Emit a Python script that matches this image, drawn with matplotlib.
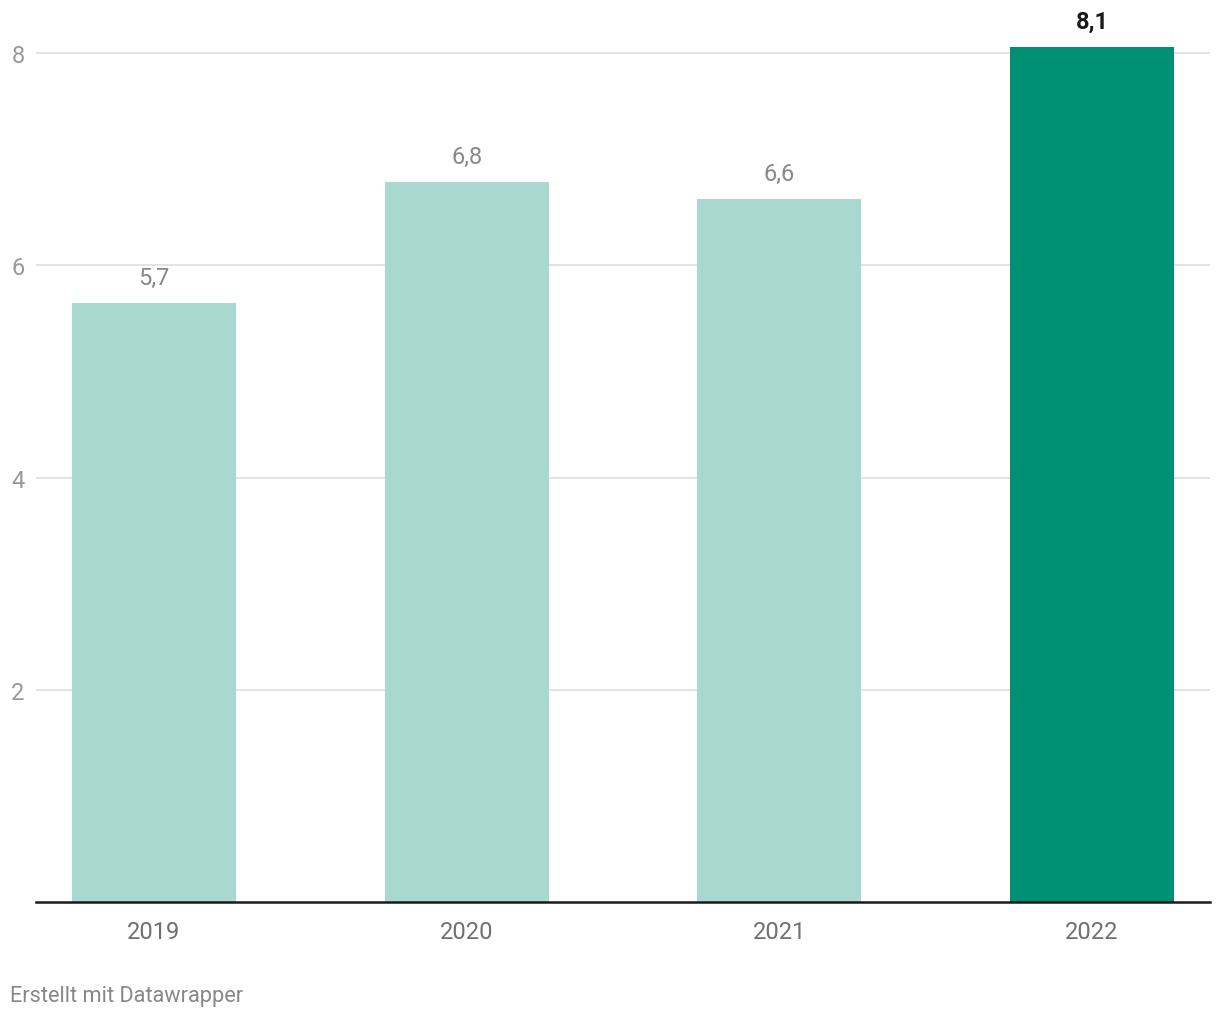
import matplotlib
matplotlib.use('Agg')
import matplotlib.pyplot as plt
import numpy as np

plt.rcParams['font.family'] = ['Roboto', 'DejaVu Sans']

years = ['2019', '2020', '2021', '2022']
values = [5.65, 6.79, 6.63, 8.06]
labels = ['5,7', '6,8', '6,6', '8,1']
yticks = [2, 4, 6, 8]

LIGHT = '#a8d8d0'
DARK = '#009074'

fig = plt.figure(figsize=(12.2, 10.2), dpi=100)
ax = fig.add_axes([36 / 1220, 1 - 903 / 1020, 1174 / 1220, 893 / 1020])

x = np.arange(len(years))
colors = [LIGHT] * 3 + [DARK]
ax.bar(x, values, width=0.525, color=colors, zorder=2)

ax.set_xlim(-0.377, 3.377)
ax.set_ylim(0, 893 / 106.1)

# value labels above bars, last one highlighted
for xi, v, lab, c in zip(x, values, labels, colors):
    last = c == DARK
    ax.text(xi, v + 0.13, lab, ha='center', va='bottom', fontsize=17,
            color='#1a1a1a' if last else '#888888',
            fontweight='bold' if last else 'normal')

ax.set_yticks(yticks)
ax.set_yticklabels([str(t) for t in yticks])
ax.yaxis.grid(True, color='#e3e3e3', linewidth=1.5, zorder=0)
ax.set_axisbelow(True)
ax.tick_params(axis='y', length=0, pad=13, labelsize=17, labelcolor='#999999')
for lbl in ax.get_yticklabels():
    lbl.set_horizontalalignment('center')

ax.set_xticks(x)
ax.set_xticklabels(years)
ax.tick_params(axis='x', length=0, pad=13, labelsize=17, labelcolor='#707070')

for s in ['top', 'right', 'left']:
    ax.spines[s].set_visible(False)
ax.spines['bottom'].set_color('#1a1a1a')
ax.spines['bottom'].set_linewidth(1.8)
ax.spines['bottom'].set_zorder(3)

fig.text(10 / 1220, 1 - 997 / 1020, 'Erstellt mit Datawrapper', fontsize=15.7,
         color='#888888', ha='left', va='center')

fig.savefig('out.png', dpi=100)
